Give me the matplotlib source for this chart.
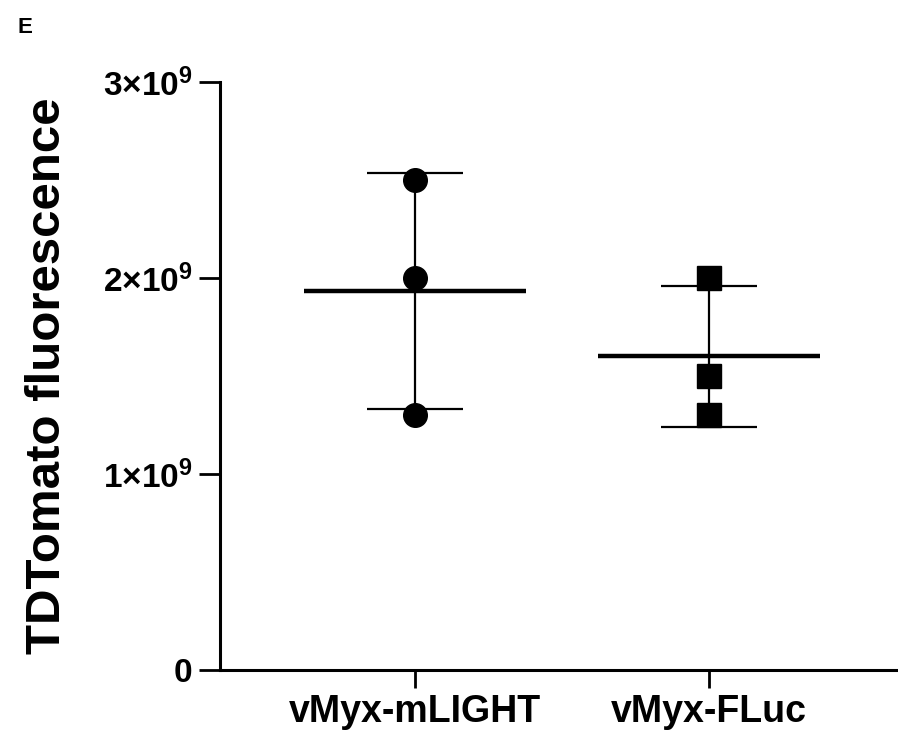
import numpy as np
from matplotlib import pyplot as plt

# Dane
groups = ['vMyx-mLIGHT', 'vMyx-FLuc']
mlight_vals = [2.5e9, 2.0e9, 1.3e9]
fluc_vals = [2.0e9, 1.5e9, 1.3e9]
y_ticks = [0, 1e9, 2e9, 3e9]
y_tick_labels = ['0', r'$\mathbf{1{\times}10^9}$', r'$\mathbf{2{\times}10^9}$',
                 r'$\mathbf{3{\times}10^9}$']

plt.rcParams['font.family'] = ['Liberation Sans', 'DejaVu Sans']
plt.rcParams['font.weight'] = 'bold'
plt.rcParams['mathtext.fontset'] = 'custom'
plt.rcParams['mathtext.rm'] = 'Liberation Sans:bold'
plt.rcParams['mathtext.bf'] = 'Liberation Sans:bold'

fig = plt.figure(figsize=(8.98, 7.33), dpi=100)
ax = fig.add_axes([0.245, 0.086, 0.755, 0.802])

markers = ['o', 's']
for i, vals in enumerate([mlight_vals, fluc_vals]):
    mean = np.mean(vals)
    sd = np.std(vals, ddof=1)          # średnia +/- SD
    ax.vlines(i, mean - sd, mean + sd, color='black', linewidth=1.6, zorder=2)
    for y in (mean - sd, mean + sd):
        ax.hlines(y, i - 0.163, i + 0.163, color='black', linewidth=1.6, zorder=2)
    ax.hlines(mean, i - 0.378, i + 0.378, color='black', linewidth=3.2, zorder=3)
    ax.plot([i] * len(vals), vals, linestyle='none', marker=markers[i],
            markersize=17, color='black', zorder=4)

ax.set_xlim(-0.663, 1.643)
ax.set_ylim(0, 3e9)
ax.set_xticks(range(len(groups)))
ax.set_xticklabels(groups, fontsize=27, fontweight='bold')
ax.set_yticks(y_ticks)
ax.set_yticklabels(y_tick_labels, fontsize=24, fontweight='bold')

for side in ['top', 'right']:
    ax.spines[side].set_visible(False)
for side in ['left', 'bottom']:
    ax.spines[side].set_linewidth(2.2)
ax.tick_params(axis='x', length=13, width=2, pad=4)
ax.tick_params(axis='y', length=15, width=2, pad=5)

fig.text(48 / 898, 1 - 376 / 733, 'TDTomato fluorescence', rotation=90,
         ha='center', va='center', fontsize=35.5, fontweight='bold')
fig.text(0.019, 0.955, 'E', fontsize=16, fontweight='bold')

plt.savefig('out.png', dpi=100)
plt.close()
